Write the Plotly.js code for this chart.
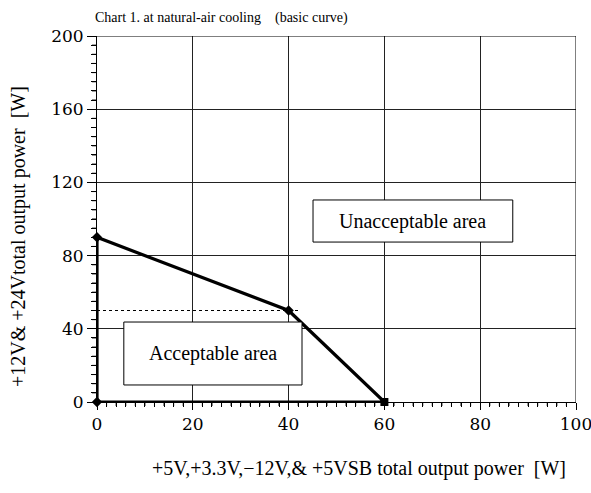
<!DOCTYPE html>
<html><head><meta charset="utf-8">
<script src="https://cdn.plot.ly/plotly-3.0.1.min.js"></script>
<style>html,body{margin:0;padding:0;background:#fff;}#chart{width:591px;height:493px;}</style>
</head><body><div id="chart"></div>
<script>
// Derating curve (basic curve)
const curveX = [0, 0, 40, 60, 0];
const curveY = [0, 90, 50, 0, 0];
const markerX = [0, 0, 40, 60];
const markerY = [0, 90, 50, 0];
const refX = [0, 42];
const refY = [50, 50];
const xTicks = [0, 20, 40, 60, 80, 100];
const yTicks = [0, 40, 80, 120, 160, 200];
const xMinorStep = 2;
const yMinorStep = 5;
const labels = ["Unacceptable area", "Acceptable area"];

const font = "Liberation Serif, Times New Roman, serif";
const numFont = "DejaVu Serif, serif";
const xRange = [xTicks[0], xTicks[xTicks.length - 1]];
const yRange = [yTicks[0], yTicks[yTicks.length - 1]];
const plotL = 97, plotT = 36, plotW = 591 - 97 - 15, plotH = 493 - 36 - 91;

const traces = [
  {x: refX, y: refY, mode: "lines", line: {color: "#000", width: 1.2, dash: "dot"}, hoverinfo: "skip"},
  {x: curveX, y: curveY, mode: "lines", line: {color: "#000", width: 3.2}, cliponaxis: false, hoverinfo: "skip"},
  {x: markerX, y: markerY, mode: "markers", cliponaxis: false, marker: {color: "#000", size: 8, symbol: ["diamond","diamond","diamond","square"]}, hoverinfo: "skip"}
];

// minor tick marks built from the axis step sizes
const minorShapes = [];
for (let v = xRange[0]; v <= xRange[1]; v += xMinorStep) {
  if (xTicks.includes(v)) continue;
  minorShapes.push({type: "line", xref: "x", yref: "paper", x0: v, x1: v, y0: 0, y1: -4 / plotH, line: {color: "#000", width: 1}});
}
for (let v = yRange[0]; v <= yRange[1]; v += yMinorStep) {
  if (yTicks.includes(v)) continue;
  minorShapes.push({type: "line", xref: "paper", yref: "y", x0: 0, x1: -5 / plotW, y0: v, y1: v, line: {color: "#000", width: 1}});
}

const layout = {
  width: 591, height: 493,
  margin: {l: plotL, r: 15, t: plotT, b: 91},
  showlegend: false,
  paper_bgcolor: "#fff", plot_bgcolor: "#fff",
  font: {family: font, color: "#000", size: 18},
  title: {text: "Chart 1. at natural-air cooling\u3000(basic curve)", x: 95/591, xanchor: "left", y: 1 - 17/493, yanchor: "middle", font: {family: font, size: 14, color: "#000"}},
  xaxis: {
    range: xRange, dtick: xTicks[1] - xTicks[0], fixedrange: true,
    ticklabeloverflow: "allow",
    showline: true, linecolor: "#000", linewidth: 1,
    showgrid: true, gridcolor: "#222", gridwidth: 1, zeroline: false,
    ticks: "outside", ticklen: 7, tickcolor: "#000",
    minor: {dtick: xMinorStep, ticks: "outside", ticklen: 4, tickcolor: "#000"},
    tickfont: {family: numFont, size: 17}
  },
  yaxis: {
    range: yRange, dtick: yTicks[1] - yTicks[0], fixedrange: true,
    ticklabeloverflow: "allow",
    showline: true, linecolor: "#000", linewidth: 1,
    showgrid: true, gridcolor: "#222", gridwidth: 1, zeroline: false,
    ticks: "outside", ticklen: 9, tickcolor: "#000",
    minor: {dtick: yMinorStep, ticks: "outside", ticklen: 5, tickcolor: "#000"},
    tickfont: {family: numFont, size: 17}
  },
  shapes: [
    {type: "rect", xref: "x", yref: "y", x0: 45.1, x1: 86.8, y0: 87.4, y1: 110.4, line: {color: "#000", width: 1}, fillcolor: "#fff", layer: "above"},
    {type: "rect", xref: "x", yref: "y", x0: 5.6, x1: 42.8, y0: 9.3, y1: 43.7, line: {color: "#000", width: 1}, fillcolor: "#fff", layer: "above"},
    {type: "line", xref: "x", yref: "y", x0: 100, x1: 100, y0: 0, y1: 200, line: {color: "#000", width: 1}},
    {type: "line", xref: "x", yref: "y", x0: 0, x1: 100, y0: 200, y1: 200, line: {color: "#000", width: 1}}
  ].concat(minorShapes),
  annotations: [
    {x: 65.95, y: 98.9, xref: "x", yref: "y", text: labels[0], showarrow: false, font: {family: font, size: 20}},
    {x: 24.2, y: 26.5, xref: "x", yref: "y", text: labels[1], showarrow: false, font: {family: font, size: 20}},
    {x: 0.5, y: 0, xref: "paper", yref: "paper", xanchor: "center", yanchor: "middle", showarrow: false,
     text: "+5V,+3.3V,\u221212V,& +5VSB total output power\u2002[W]", font: {family: font, size: 20}},
    {x: 0, y: 0.5, xref: "paper", yref: "paper", xanchor: "center", yanchor: "middle", showarrow: false, textangle: -90,
     text: "+12V& +24Vtotal output power\u2002[W]", font: {family: font, size: 20}}
  ]
};
// place axis titles at figure-pixel positions (converted to plot-area paper fractions)
[[2, 359, 468], [3, 18, 237]].forEach(([i, px, py]) => {
  layout.annotations[i].x = (px - plotL) / plotW;
  layout.annotations[i].y = 1 - (py - plotT) / plotH;
});
Plotly.newPlot("chart", traces, layout, {displayModeBar: false});
</script></body></html>
